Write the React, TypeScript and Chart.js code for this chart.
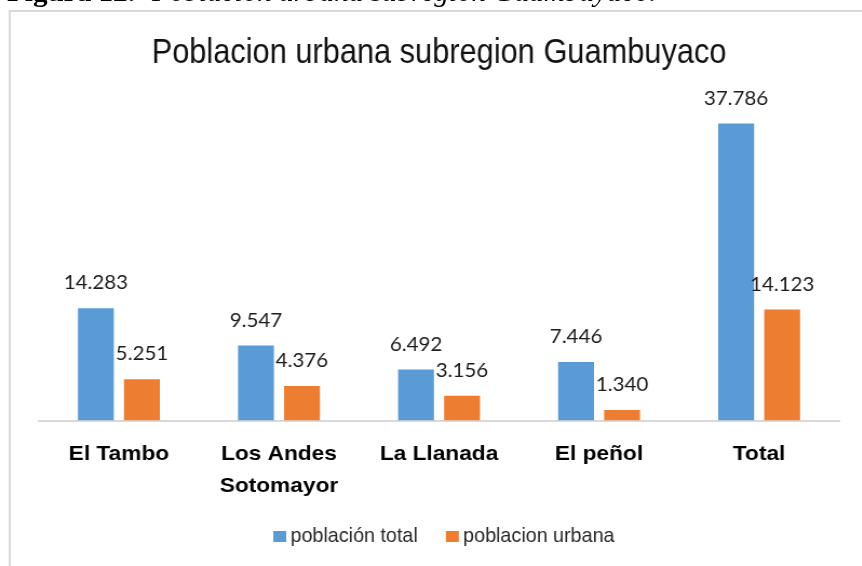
import React, { useEffect, useRef } from "react";
import { Chart, registerables } from "chart.js";

Chart.register(...registerables);

// ---- data ----
const categories: string[][] = [
  ["El Tambo"],
  ["Los Andes", "Sotomayor"],
  ["La Llanada"],
  ["El peñol"],
  ["Total"],
];
const totalPopulation = [14283, 9547, 6492, 7446, 37786];
const urbanPopulation = [5251, 4376, 3156, 1340, 14123];
const seriesNames = ["población total", "poblacion urbana"];
const chartTitle = "Poblacion urbana subregion Guambuyaco";
const captionBold = "Figura 12.";
const captionItalic = "Poblacion urbana subregion Guambuyaco.";
const yMax = 40000;

const BLUE = "#5B9BD5";
const ORANGE = "#ED7D31";
const SX = 1.08; // horizontal stretch of the picture
const SANS = "'Liberation Sans', Arial, sans-serif";

const fmt = (n: number) => String(n).replace(/\B(?=(\d{3})+(?!\d))/g, ".");

const dataLabels = {
  id: "dataLabels",
  afterDatasetsDraw(chart: any) {
    const ctx = chart.ctx;
    ctx.save();
    ctx.font = "19px Lato, 'Open Sans', sans-serif";
    ctx.fillStyle = "#1a1a1a";
    ctx.textAlign = "center";
    ctx.textBaseline = "middle";
    chart.data.datasets.forEach((ds: any, di: number) => {
      const meta = chart.getDatasetMeta(di);
      meta.data.forEach((el: any, i: number) => {
        ctx.fillText(fmt(ds.data[i]), el.x, el.y - 25);
      });
    });
    ctx.restore();
  },
};

// narrow (condensed) title and legend, drawn by horizontally compressing Liberation Sans
const narrowText = {
  id: "narrowText",
  afterDraw(chart: any) {
    const ctx = chart.ctx;
    const ca = chart.chartArea;
    // title
    const tb = chart.titleBlock;
    ctx.save();
    ctx.font = `35px ${SANS}`;
    ctx.fillStyle = "#111";
    ctx.textAlign = "center";
    ctx.textBaseline = "middle";
    ctx.translate((tb.left + tb.right) / 2, tb.top + 20.5 + 21);
    ctx.scale(0.814, 1);
    ctx.fillText(chart.options.plugins.title.text, 0, 0);
    ctx.restore();

    // legend
    const C = 0.87;
    const boxW = 12;
    const boxH = 11;
    const gap = 4;
    const spacing = 26;
    ctx.save();
    ctx.font = `21px ${SANS}`;
    const items = chart.data.datasets.map((ds: any) => ({
      text: ds.label,
      color: ds.backgroundColor,
      w: ctx.measureText(ds.label).width * C,
    }));
    const total =
      items.reduce((s: number, it: any) => s + boxW + gap + it.w, 0) + spacing * (items.length - 1);
    let x = (ca.left + ca.right) / 2 + 4.5 - total / 2;
    const baseline = ca.bottom + 121.5;
    items.forEach((it: any) => {
      ctx.fillStyle = it.color;
      ctx.fillRect(x, baseline - boxH, boxW, boxH);
      ctx.save();
      ctx.fillStyle = "#262626";
      ctx.textAlign = "left";
      ctx.textBaseline = "alphabetic";
      ctx.translate(x + boxW + gap, baseline);
      ctx.scale(C, 1);
      ctx.fillText(it.text, 0, 0);
      ctx.restore();
      x += boxW + gap + it.w + spacing;
    });
    ctx.restore();
  },
};

export default function App() {
  const canvasRef = useRef<HTMLCanvasElement>(null);

  useEffect(() => {
    if (!canvasRef.current) return;
    const chart = new Chart(canvasRef.current, {
      type: "bar",
      data: {
        labels: categories as any,
        datasets: [
          {
            label: seriesNames[0],
            data: totalPopulation,
            backgroundColor: BLUE,
            borderWidth: 0,
            categoryPercentage: 0.575,
            barPercentage: 0.78,
          },
          {
            label: seriesNames[1],
            data: urbanPopulation,
            backgroundColor: ORANGE,
            borderWidth: 0,
            categoryPercentage: 0.575,
            barPercentage: 0.78,
          },
        ],
      },
      options: {
        responsive: false,
        animation: false,
        events: [],
        layout: { padding: { left: 26, right: 27, top: 0, bottom: 55.5 } },
        plugins: {
          tooltip: { enabled: false },
          legend: { display: false },
          title: {
            display: true,
            text: chartTitle,
            color: "rgba(0,0,0,0)",
            font: { family: SANS, size: 35, weight: "normal", lineHeight: 1.2 },
            padding: { top: 20.5, bottom: 31.5 },
          },
        },
        scales: {
          x: {
            grid: { display: false, drawTicks: false, tickLength: 0 },
            border: { display: true, color: "#d9d9d9", width: 2 },
            ticks: {
              color: "#000",
              padding: 18,
              maxRotation: 0,
              autoSkip: false,
              font: { family: SANS, size: 21, weight: "bold", lineHeight: 1.5 },
            },
            afterFit: (s: any) => {
              s.height = 90;
            },
          },
          y: {
            display: false,
            min: 0,
            max: yMax,
            grid: { display: false },
          },
        },
      },
      plugins: [dataLabels, narrowText],
    });
    return () => chart.destroy();
  }, []);

  return (
    <div
      style={{
        position: "absolute",
        left: 0,
        top: 0,
        width: 862,
        height: 566,
        overflow: "hidden",
        background: "#fff",
      }}
    >
      <div
        style={{
          position: "absolute",
          left: 0,
          top: 0,
          width: 800,
          height: 566,
          transform: `scaleX(${SX})`,
          transformOrigin: "0 0",
        }}
      >
        <div
          style={{
            position: "absolute",
            left: 6.5,
            top: -20.6,
            whiteSpace: "nowrap",
            fontFamily: "'Liberation Serif', 'Times New Roman', serif",
            fontSize: 27,
            lineHeight: "27px",
            fontWeight: "bold",
            color: "#000",
          }}
        >
          {captionBold}
        </div>
        <div
          style={{
            position: "absolute",
            left: 140.7,
            top: -20.6,
            whiteSpace: "nowrap",
            fontFamily: "'Liberation Serif', 'Times New Roman', serif",
            fontSize: 27,
            lineHeight: "27px",
            fontStyle: "italic",
            color: "#000",
          }}
        >
          {captionItalic}
        </div>
        <div
          style={{
            position: "absolute",
            left: 8.3,
            top: 10,
            width: 900,
            height: 700,
            border: "2px solid #d9d9d9",
            boxSizing: "border-box",
          }}
        />
        <canvas
          ref={canvasRef}
          width={794}
          height={554}
          style={{ position: "absolute", left: 10, top: 12 }}
        />
      </div>
    </div>
  );
}
